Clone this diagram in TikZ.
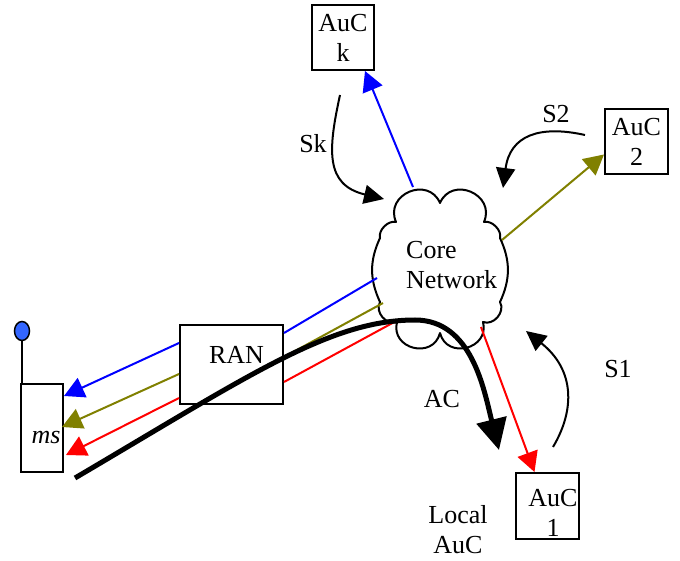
\documentclass[tikz,border=0pt]{standalone}
\usepackage{fontspec}
\setmainfont{Liberation Serif}
\usetikzlibrary{arrows.meta,calc,shapes.geometric}
\definecolor{cblue}{RGB}{0,0,255}
\definecolor{colive}{RGB}{128,128,0}
\definecolor{cred}{RGB}{255,0,0}
\definecolor{antblue}{RGB}{51,102,255}
\begin{document}
\begin{tikzpicture}[x=1pt,y=-1pt,
  box/.style={draw,line width=2pt,inner sep=0pt,align=center,font=\fontsize{26}{30}\selectfont},
  lbl/.style={inner sep=0pt,anchor=base,font=\fontsize{26}{30}\selectfont},
  link/.style={line width=2pt},
  tip/.style={-{Triangle[length=20pt,width=21pt]}},
  curv/.style={line width=2pt,-{Triangle[length=20pt,width=19pt]}},
  bigarrow/.style={line width=5pt,-{Triangle[length=31pt,width=30pt]}},
  bigpuff/.style={bend left=90,looseness=1.6},
  medpuff/.style={bend left=70,looseness=1.1},
  smallpuff/.style={bend left=60,looseness=0.9},
  sidepuff/.style={bend left=25}
]
\useasboundingbox (0,0) rectangle (680,561);

% boxes
\node[box,minimum width=62pt,minimum height=65pt] (AuCk) at (343,37.5) {AuC\\k};
\node[box,minimum width=63pt,minimum height=65pt] (AuC2) at (636.5,141.5) {AuC\\2};
\node[box,minimum width=63pt,minimum height=66pt] (AuC1) at (547.5,506) {};
\node[inner sep=0pt,anchor=north,align=center,font=\fontsize{26}{30}\selectfont] (auc1text) at (553,489) {AuC\\1};
\node[box,minimum width=103pt,minimum height=79pt] (RAN) at (231.5,364.5) {};
\node[lbl] (rantext) at (236.5,363) {RAN};
\node[box,minimum width=42pt,minimum height=88pt] (ms) at (42,428) {};
\node[lbl] (mstext) at (46,443) {\itshape ms};

% antenna
\node[draw,ellipse,fill=antblue,line width=1.5pt,minimum width=15pt,minimum height=19pt,inner sep=0pt] (ant) at (22,331) {};
\draw[line width=2.5pt] (ms.north west -| ant.south) -- (ant.south);

% cloud
\coordinate (core) at (440,267);
\draw[line width=2pt,line join=round]
  (440,203) to[bigpuff] (484,222) to[smallpuff] (500,238) to[sidepuff] (500,302)
  to[medpuff] (483,322) to[bigpuff] (440,333) to[bigpuff] (397,322)
  to[medpuff] (380,302) to[sidepuff] (380,238) to[smallpuff] (396,222)
  to[bigpuff] (440,203) -- cycle;
\node[anchor=north west,inner sep=0pt,align=left,font=\fontsize{26}{30}\selectfont] (coretext) at (406,241) {Core\\Network};

% blue
\draw[link,cblue] ($(RAN.north east)+(0,9)$) -- ($(core)+(-63,11)$);
\draw[link,cblue,tip] ($(RAN.north west)+(0,19)$) -- ($(ms.north east)+(0,13)$);
\draw[link,cblue,tip] ($(core)+(-27,-80)$) -- ($(AuCk.south)+(22,0)$);
% olive
\draw[link,colive] ($(RAN.north east)+(0,33)$) -- ($(core)+(-57,36)$);
\draw[link,colive,tip] ($(RAN.north west)+(0,50)$) -- ($(ms.north east)+(-2,44)$);
\draw[link,colive,tip] ($(core)+(62,-27)$) -- ($(AuC2.west)+(0,13)$);
% red
\draw[link,cred] ($(RAN.north east)+(0,58)$) -- ($(core)+(-42,53)$);
\draw[link,cred,tip] ($(RAN.north west)+(0,74)$) -- ($(ms.north east)+(2,72)$);
\draw[link,cred,tip] ($(core)+(41,60)$) -- ($(AuC1.north)+(-13,0)$);

% thick AC arrow
\coordinate (acS) at (75,478);
\coordinate (acE) at (499,450);
\draw[bigarrow] (acS) .. controls (250,375) and (330,320) .. (415,320)
   .. controls (472,320) and (484,390) .. (acE);

% curved signalling arrows
\coordinate (skS) at (340,95);
\coordinate (skE) at (384,199);
\draw[curv] (skS) .. controls (328,150) and (325,185) .. (skE);
\coordinate (s2S) at (585,135);
\coordinate (s2E) at (503,188);
\draw[curv] (s2S) .. controls (540,125) and (510,135) .. (s2E);
\coordinate (s1S) at (553,447);
\coordinate (s1E) at (526,331);
\draw[curv] (s1S) .. controls (575,410) and (575,370) .. (s1E);

% labels
\node[lbl] (sk) at (313,153) {Sk};
\node[lbl] (s2) at (556,123) {S2};
\node[lbl] (s1) at (618,377) {S1};
\node[lbl] (ac) at (442,407) {AC};
\node[inner sep=0pt,anchor=north,align=center,font=\fontsize{26}{30}\selectfont] (local) at (458,505) {Local\\AuC};
\end{tikzpicture}
\end{document}
